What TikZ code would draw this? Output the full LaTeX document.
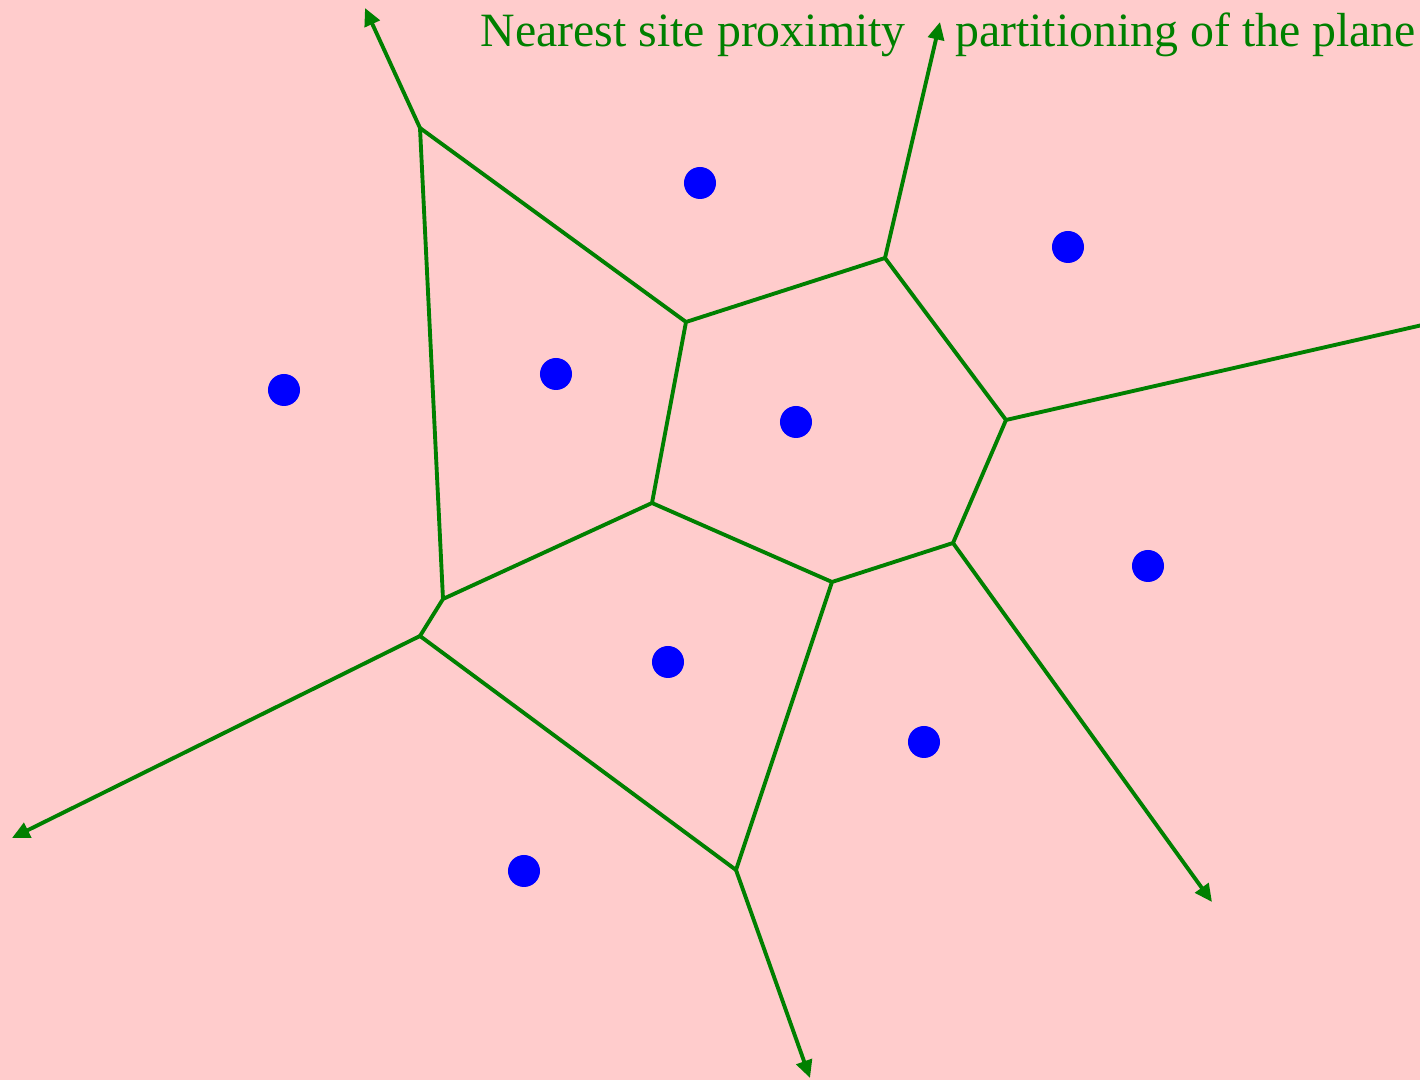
\documentclass[tikz,border=0pt]{standalone}
\usepackage{fontspec}
\setmainfont{Liberation Serif}
\usetikzlibrary{arrows.meta,positioning}
\definecolor{bgpink}{HTML}{FFCCCC}
\definecolor{edgegreen}{HTML}{008000}
\definecolor{siteblue}{HTML}{0000FF}

\begin{document}
\begin{tikzpicture}[x=0.01cm,y=-0.01cm,
 cell/.style={draw=edgegreen,line width=1.1pt,line join=round},
 ray/.style={cell,-{Triangle[length=5pt,width=4.6pt]}},
 site/.style={circle,fill=siteblue,inner sep=0pt,minimum size=3.2mm},
 title/.style={text=edgegreen,inner sep=0pt,font=\fontsize{13.6}{16}\selectfont}]
\fill[bgpink] (0,0) rectangle (1420,1080);
\useasboundingbox (0,0) rectangle (1420,1080);
\clip (0,0) rectangle (1420,1080);
% vertices of the diagram
\coordinate (a) at (420,128);
\coordinate (b) at (686,322);
\coordinate (c) at (885,258);
\coordinate (d) at (1006,420);
\coordinate (e) at (953,543);
\coordinate (f) at (832,582);
\coordinate (g) at (652,503);
\coordinate (h) at (443,599);
\coordinate (i) at (420,636);
\coordinate (j) at (736,870);
% far ends of the open edges
\coordinate (ra) at (365,8);
\coordinate (rc) at (940,22);
\coordinate (rd) at (1440,321);
\coordinate (re) at (1212,902);
\coordinate (ri) at (12,838);
\coordinate (rj) at (810,1078);
\draw[cell] (a) -- (b) -- (c) -- (d) -- (e) -- (f) -- (g) -- (b)
 (g) -- (h) -- (a) (h) -- (i) -- (j) -- (f);
\draw[ray] (a) -- (ra);
\draw[ray] (c) -- (rc);
\draw[ray] (d) -- (rd);
\draw[ray] (e) -- (re);
\draw[ray] (i) -- (ri);
\draw[ray] (j) -- (rj);
% sites
\node[site] (s1) at (700,183) {};
\node[site] (s2) at (1068,247) {};
\node[site] (s3) at (284,390) {};
\node[site] (s4) at (556,374) {};
\node[site] (s5) at (796,422) {};
\node[site] (s6) at (1148,566) {};
\node[site] (s7) at (668,662) {};
\node[site] (s8) at (924,742) {};
\node[site] (s9) at (524,871) {};
\node[title,anchor=base west] (t1) at (480,47) {Nearest site proximity};
\node[title,base right=4.8mm of t1] (t2) {partitioning of the plane};
\end{tikzpicture}
\end{document}
